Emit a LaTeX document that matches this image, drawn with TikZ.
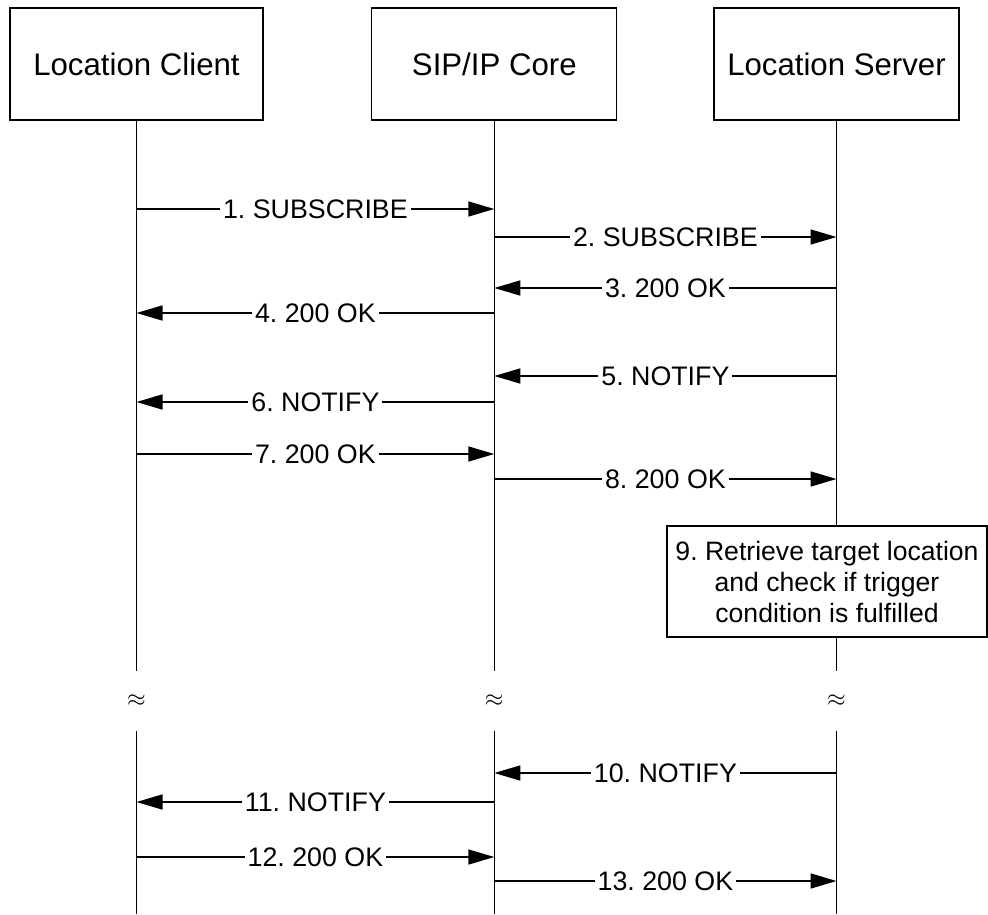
\documentclass[tikz,border=0pt]{standalone}
\usepackage{fontspec}
\setmainfont{Liberation Sans}
\usetikzlibrary{arrows.meta,positioning}
\frenchspacing

\begin{document}
\begin{tikzpicture}[x=0.5pt,y=-0.5pt]
\path[use as bounding box] (0,0) rectangle (988,914);

\tikzstyle{every path}+=[line width=0.75pt]
\tikzstyle{hdr}=[draw,line width=0.6pt,minimum width=122.5pt,minimum height=56pt,inner sep=0pt,font=\fontsize{15.6}{18}\selectfont]
\tikzstyle{msg}=[-{Triangle[length=13pt,width=7.5pt]}]
\tikzstyle{lbl}=[midway,fill=white,inner sep=1.5pt,font=\fontsize{13.4}{16}\selectfont]
\tikzstyle{gap}=[minimum height=29pt,inner sep=0pt,font=\large]

\node[hdr,minimum width=126.5pt] (lc) at (136.5,64) {Location Client};
\node[hdr,right=53.8pt of lc] (core) {SIP/IP Core};
\node[hdr,right=48pt of core] (ls) {Location Server};

\node[draw,line width=0.6pt,minimum width=160pt,minimum height=55.5pt,align=center,
      font=\fontsize{13.3}{15.5}\selectfont] (chk) at (827,581.5)
      {9. Retrieve target location\\and check if trigger\\condition is fulfilled};

\coordinate (end) at (0,914);
\node[gap] (a1) at (lc.south |- 0,701) {$\approx$};
\node[gap] (a2) at (core.south |- 0,701) {$\approx$};
\node[gap] (a3) at (ls.south |- 0,701) {$\approx$};

% lifelines
\draw (lc.south) -- (a1.north) (a1.south) -- (a1.south |- end);
\draw (core.south) -- (a2.north) (a2.south) -- (a2.south |- end);
\draw (ls.south) -- (ls.south |- chk.north)
      (ls.south |- chk.south) -- (a3.north)
      (a3.south) -- (a3.south |- end);

% messages
\draw[msg] (lc.south |- 0,209) -- node[lbl] {1. SUBSCRIBE} (core.south |- 0,209);
\draw[msg] (core.south |- 0,237) -- node[lbl] {2. SUBSCRIBE} (ls.south |- 0,237);
\draw[msg] (ls.south |- 0,288) -- node[lbl] {3. 200 OK} (core.south |- 0,288);
\draw[msg] (core.south |- 0,313) -- node[lbl] {4. 200 OK} (lc.south |- 0,313);
\draw[msg] (ls.south |- 0,376) -- node[lbl] {5. NOTIFY} (core.south |- 0,376);
\draw[msg] (core.south |- 0,402) -- node[lbl] {6. NOTIFY} (lc.south |- 0,402);
\draw[msg] (lc.south |- 0,454) -- node[lbl] {7. 200 OK} (core.south |- 0,454);
\draw[msg] (core.south |- 0,479) -- node[lbl] {8. 200 OK} (ls.south |- 0,479);
\draw[msg] (ls.south |- 0,773) -- node[lbl] {10. NOTIFY} (core.south |- 0,773);
\draw[msg] (core.south |- 0,802) -- node[lbl] {11. NOTIFY} (lc.south |- 0,802);
\draw[msg] (lc.south |- 0,857) -- node[lbl] {12. 200 OK} (core.south |- 0,857);
\draw[msg] (core.south |- 0,881) -- node[lbl] {13. 200 OK} (ls.south |- 0,881);
\end{tikzpicture}
\end{document}
